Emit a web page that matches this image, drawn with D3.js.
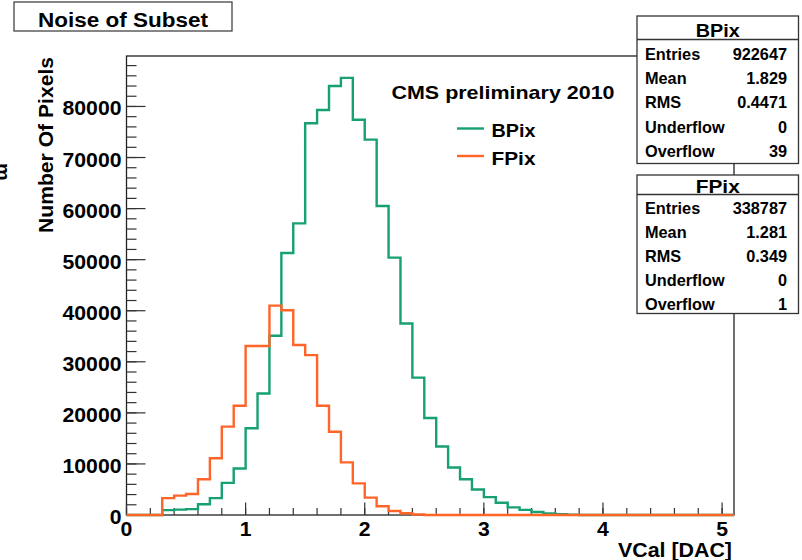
<!DOCTYPE html>
<html>
<head>
<meta charset="utf-8">
<script src="https://cdn.jsdelivr.net/npm/d3@7"></script>
<style>
  html, body { margin: 0; padding: 0; background: #fff; }
  svg { display: block; }
  text { font-family: "Liberation Sans", Arial, Helvetica, sans-serif; font-weight: bold; fill: #000; }
</style>
</head>
<body>
<svg id="chart" width="802" height="560"></svg>
<script>
// Histogram binning: 51 bins of width 0.1 VCal between 0 and 5.1
const binCount = 51;
const binWidth = 0.1;

// Pixel counts per bin (barrel pixels)
const bpixCounts = [
  0, 0, 0, 950, 1050, 1150, 2100, 3300, 6300, 9100,
  17000, 23800, 35100, 51300, 57100, 76700, 79300, 84000, 85600, 77400,
  73500, 60500, 50400, 37500, 26900, 19000, 13400, 9300, 7000, 5000,
  3500, 2400, 1500, 1000, 600, 300, 150, 60, 0, 0,
  0, 0, 0, 0, 0, 0, 0, 0, 0, 0,
  0
];

// Pixel counts per bin (forward pixels)
const fpixCounts = [
  0, 0, 0, 3300, 3800, 4100, 7000, 11100, 17300, 21400,
  33100, 33100, 41000, 40100, 33300, 31300, 21400, 16300, 10300, 6200,
  3400, 1700, 780, 330, 100, 0, 0, 0, 0, 0,
  0, 0, 0, 0, 0, 0, 0, 0, 0, 0,
  0, 0, 0, 0, 0, 0, 0, 0, 0, 0,
  0
];

const seriesNames = ["BPix", "FPix"];
const seriesColors = ["#17a070", "#ff6428"];

const xTickValues = [0, 1, 2, 3, 4, 5];
const yTickValues = [0, 10000, 20000, 30000, 40000, 50000, 60000, 70000, 80000];

// Statistics box contents
const statLabels = ["Entries", "Mean", "RMS", "Underflow", "Overflow"];
const bpixStats = ["922647", "1.829", "0.4471", "0", "39"];
const fpixStats = ["338787", "1.281", "0.349", "0", "1"];

const svg = d3.select("#chart");

const frame = { left: 126.5, right: 734, top: 56, bottom: 515 };

const x = d3.scaleLinear().domain([0, binCount * binWidth]).range([frame.left, frame.right]);
const yMax = 1.05 * d3.max(bpixCounts);
const y = d3.scaleLinear().domain([0, yMax]).range([frame.bottom, frame.top]);

function label(g, str, px, py, size, anchor, width) {
  const t = g.append("text")
    .attr("x", px).attr("y", py)
    .attr("font-size", size)
    .attr("text-anchor", anchor || "start")
    .text(str);
  if (width) t.attr("textLength", width).attr("lengthAdjust", "spacingAndGlyphs");
  return t;
}

// Frame
svg.append("rect")
  .attr("x", frame.left).attr("y", frame.top)
  .attr("width", frame.right - frame.left).attr("height", frame.bottom - frame.top)
  .attr("fill", "none").attr("stroke", "#222").attr("stroke-width", 1.3);

// Y axis ticks
const yAxis = svg.append("g");
const yMinor = d3.range(0, yMax, 2000);
yAxis.selectAll("line.minor").data(yMinor).join("line")
  .attr("x1", frame.left).attr("x2", frame.left + 10)
  .attr("y1", d => y(d)).attr("y2", d => y(d))
  .attr("stroke", "#333").attr("stroke-width", 1.2);
yAxis.selectAll("line.major").data(yTickValues).join("line")
  .attr("x1", frame.left).attr("x2", frame.left + 19)
  .attr("y1", d => y(d)).attr("y2", d => y(d))
  .attr("stroke", "#333").attr("stroke-width", 1.2);
yTickValues.forEach(v => {
  label(yAxis, String(v), 121.5, y(v) + 9, 19.5, "end", String(v).length * 11.8);
});

// X axis ticks
const xAxis = svg.append("g");
const xMinor = d3.range(0, 5.01, 0.2);
xAxis.selectAll("line.minor").data(xMinor).join("line")
  .attr("x1", d => x(d)).attr("x2", d => x(d))
  .attr("y1", frame.bottom).attr("y2", frame.bottom - 7)
  .attr("stroke", "#333").attr("stroke-width", 1.2);
xAxis.selectAll("line.major").data(xTickValues).join("line")
  .attr("x1", d => x(d)).attr("x2", d => x(d))
  .attr("y1", frame.bottom).attr("y2", frame.bottom - 12.5)
  .attr("stroke", "#333").attr("stroke-width", 1.2);
xTickValues.forEach(v => {
  label(xAxis, String(v), x(v), 535.5, 19.5, "middle", 11.8);
});

// Axis titles
label(svg, "VCal [DAC]", 732, 556.5, 21, "end", 114);
svg.append("text")
  .attr("transform", "translate(53,57) rotate(-90)")
  .attr("font-size", 20)
  .attr("text-anchor", "end")
  .attr("textLength", 176).attr("lengthAdjust", "spacingAndGlyphs")
  .text("Number Of Pixels");

// Fragment of a rotated label at the left margin
svg.append("text")
  .attr("transform", "translate(-4,163) rotate(90)")
  .attr("font-size", 20)
  .text("m");

// Histograms drawn as step outlines
function stepPath(counts) {
  const pts = [[x(0), y(0)]];
  counts.forEach((c, i) => {
    pts.push([x(i * binWidth), y(c)]);
    pts.push([x((i + 1) * binWidth), y(c)]);
  });
  pts.push([x(binCount * binWidth), y(0)]);
  return d3.line()(pts);
}
const hists = svg.append("g");
[bpixCounts, fpixCounts].forEach((counts, k) => {
  hists.append("path")
    .attr("d", stepPath(counts))
    .attr("fill", "none")
    .attr("stroke", seriesColors[k])
    .attr("stroke-width", 2.4)
    .attr("stroke-linejoin", "miter");
});

// Title box
svg.append("rect")
  .attr("x", 14).attr("y", 2).attr("width", 218).attr("height", 29)
  .attr("fill", "#fff").attr("stroke", "#444").attr("stroke-width", 1.3);
label(svg, "Noise of Subset", 123, 27.3, 20, "middle", 170);

// Legend
const legend = svg.append("g");
label(legend, "CMS preliminary 2010", 391.5, 98.5, 18.5, "start", 223);
const legendRows = [128.5, 156];
seriesNames.forEach((name, k) => {
  legend.append("line")
    .attr("x1", 457).attr("x2", 484)
    .attr("y1", legendRows[k]).attr("y2", legendRows[k])
    .attr("stroke", seriesColors[k]).attr("stroke-width", 2.4);
  label(legend, name, 491.5, legendRows[k] + 8.5, 18.5, "start", 44);
});

// Statistics boxes
function statBox(name, values, top, sep, bottom, baselines, headerBase) {
  const g = svg.append("g");
  const left = 637, right = 798.5;
  g.append("rect")
    .attr("x", left).attr("y", top).attr("width", right - left).attr("height", bottom - top)
    .attr("fill", "#fff").attr("stroke", "#333").attr("stroke-width", 1.3);
  g.append("line")
    .attr("x1", left).attr("x2", right).attr("y1", sep).attr("y2", sep)
    .attr("stroke", "#333").attr("stroke-width", 1.3);
  label(g, name, (left + right) / 2, headerBase, 18.5, "middle", 44);
  statLabels.forEach((s, i) => {
    label(g, s, 645, baselines[i], 16.3, "start");
    label(g, values[i], 787, baselines[i], 16.3, "end");
  });
}
statBox("BPix", bpixStats, 16, 39.5, 163.5, [60, 84.2, 108.4, 132.6, 156.8], 37);
statBox("FPix", fpixStats, 175, 194.5, 313.5, [214, 238, 262, 286, 310], 193);
</script>
</body>
</html>
